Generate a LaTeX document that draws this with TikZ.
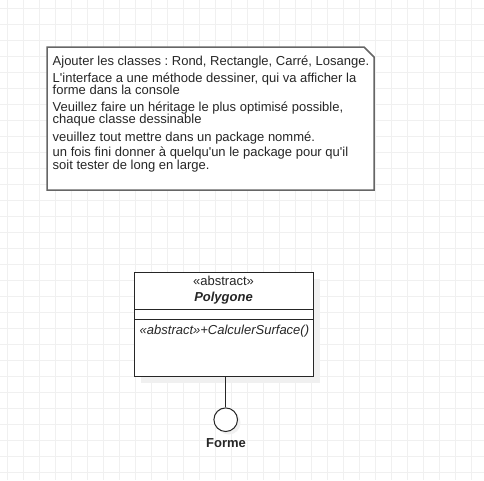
\documentclass[tikz,border=0pt]{standalone}
\usepackage{fontspec}
\setmainfont[Ligatures=TeXOff]{Liberation Sans}
\frenchspacing
\begin{document}
\begin{tikzpicture}[x=1pt,y=-1pt,
  font=\fontsize{13}{13}\selectfont\frenchspacing,
  txt/.style={text=black!85, inner sep=0pt},
  gridline/.style={draw=black!6, line width=1pt},
  shapeline/.style={draw=black!85, line width=1pt},
  shadowfill/.style={fill=black!6}]
\useasboundingbox (0,0) rectangle (484,480);
\fill[white] (0,0) rectangle (484,480);
\foreach \x in {7,23,...,483} \draw[gridline] (\x,0) -- (\x,480);
\foreach \y in {8,24,...,480} \draw[gridline] (0,\y) -- (484,\y);

% note
\draw[draw=black!60, line width=1.5pt, fill=white] (47,47) -- (364,47) -- (374,57) -- (374,190) -- (47,190) -- cycle;
\node[inner sep=0pt, minimum width=327pt, minimum height=143pt, anchor=north west] (note) at (47,47) {};
\node[txt, anchor=base west] (l1) at (52.5,65) {Ajouter les classes : Rond, Rectangle, Carré, Losange.};
\node[txt, anchor=base west] (l2) at (52.5,82.3) {L'interface a une méthode dessiner, qui va afficher la};
\node[txt, anchor=base west] (l3) at (52.5,94.5) {forme dans la console};
\node[txt, anchor=base west] (l4) at (52.5,111.7) {Veuillez faire un héritage le plus optimisé possible,};
\node[txt, anchor=base west] (l5) at (52.5,123.5) {chaque classe dessinable};
\node[txt, anchor=base west] (l6) at (52.5,141) {veuillez tout mettre dans un package nommé.};
\node[txt, anchor=base west] (l7) at (52.5,156.7) {un fois fini donner à quelqu'un le package pour qu'il};
\node[txt, anchor=base west] (l8) at (52.5,169.3) {soit tester de long en large.};

% class
\fill[shadowfill] (141,279) rectangle (320,383);
\node[shapeline, fill=white, minimum width=179pt, minimum height=104pt, anchor=north west, inner sep=0pt] (poly) at (134,272) {};
\draw[shapeline] (134,309.5) -- (313,309.5);
\draw[shapeline] (134,319.5) -- (313,319.5);
\node[txt, anchor=base] (stereo) at (223.5,285.7) {«abstract»};
\node[txt, anchor=base] (pname) at (223.5,301) {\bfseries\itshape Polygone};
\node[txt, anchor=base west] (meth) at (139.5,334) {\itshape «abstract»+CalculerSurface()};

% interface lollipop
\fill[shadowfill] (228.7,422.7) circle (11.8);
\node[shapeline, circle, fill=white, minimum size=23.6pt, inner sep=0pt] (iface) at (225.7,419.7) {};
\draw[shapeline] (iface.north |- poly.south) -- (iface.north);
\node[txt, anchor=base] (fname) at (226,447.7) {\bfseries Forme};
\end{tikzpicture}
\end{document}
